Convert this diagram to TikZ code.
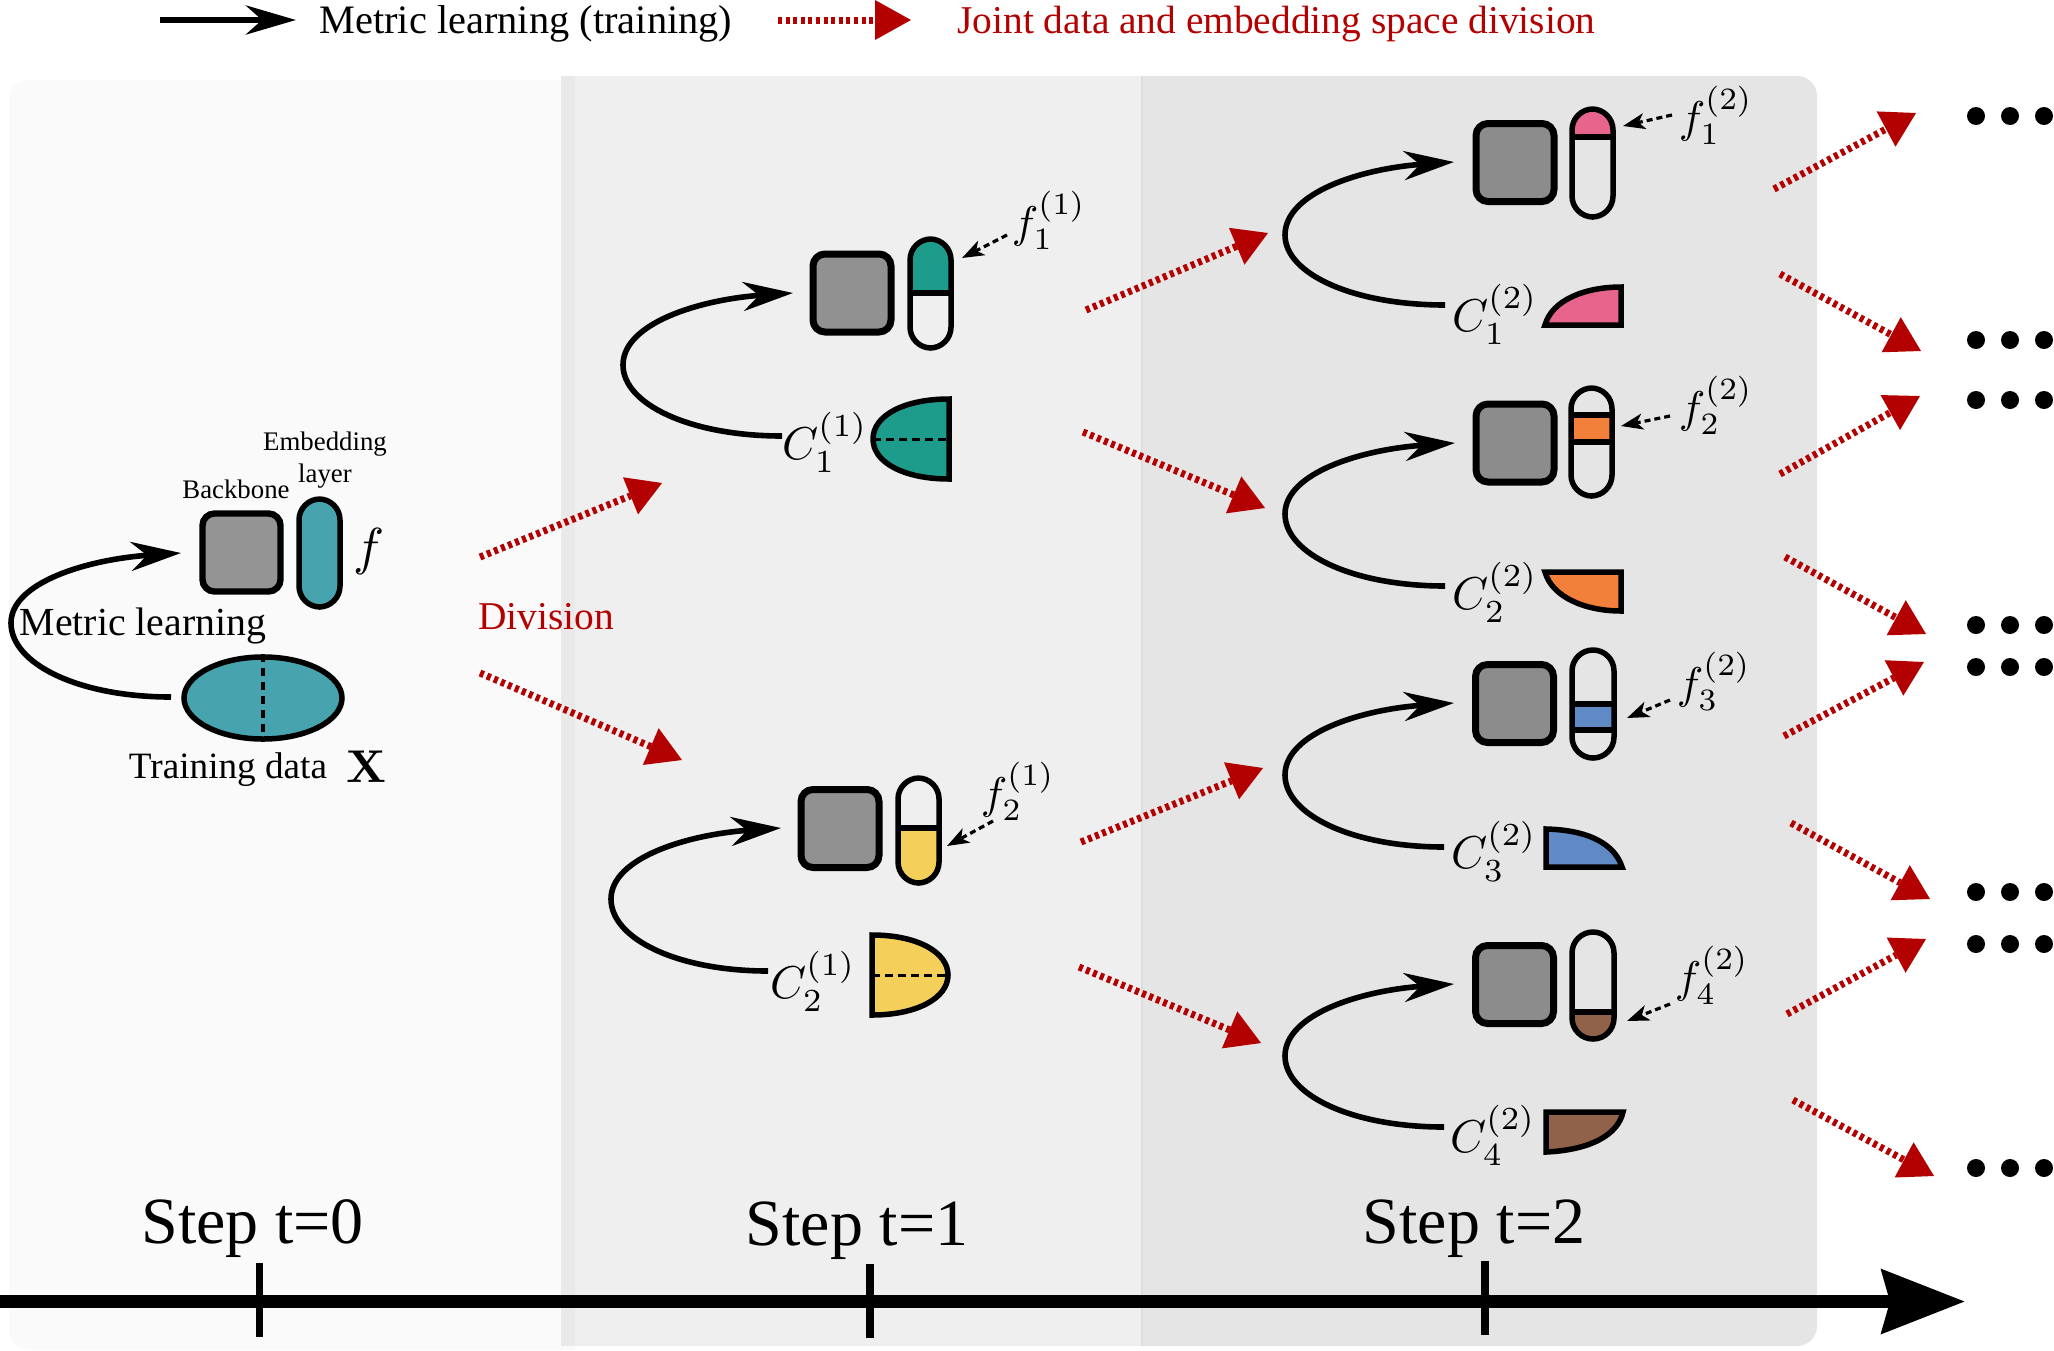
\documentclass[tikz,border=0pt]{standalone}
\usepackage[no-math]{fontspec}
\setmainfont{Liberation Serif}
\usetikzlibrary{arrows.meta,calc,shapes.geometric}
\definecolor{redc}{HTML}{B30000}
\definecolor{zonea}{HTML}{FAFAFA}
\definecolor{zoneb}{HTML}{EFEFEF}
\definecolor{zonec}{HTML}{E5E5E5}
\definecolor{zoneab}{HTML}{E9E9E9}
\definecolor{zoneed}{HTML}{DEDEDE}
\definecolor{tealc}{HTML}{47A3AD}
\definecolor{greenc}{HTML}{1D9B8B}
\definecolor{yellowc}{HTML}{F4CF5A}
\definecolor{pinkc}{HTML}{E7658D}
\definecolor{orangec}{HTML}{F2803A}
\definecolor{bluec}{HTML}{5F8AC6}
\definecolor{brownc}{HTML}{8F6249}
\tikzset{
  bbox/.style={draw=black,line width=3.5pt,rounded corners=6pt,minimum width=39pt,minimum height=39pt,inner sep=0pt,outer sep=0pt},
  arc/.style={draw=black,line width=2.8pt,-{Stealth[length=25pt,width=14.5pt,inset=8pt]}},
  redarrow/.style={draw=redc,line width=3.5pt,dash pattern=on 2pt off 1.8pt,-{Triangle[length=17pt,width=20pt,line width=0pt]}},
  tinyarrow/.style={draw=black,line width=1.6pt,dash pattern=on 3pt off 2pt,-{Stealth[length=11pt,width=8pt,inset=3pt]}},
  outl/.style={draw=black,line width=2.75pt},
  mathc/.style={scale=2.3,inner sep=0pt},
  mathf/.style={scale=2.22,inner sep=0pt},
  smalltxt/.style={inner sep=0pt,font=\fontsize{13.4}{15}\selectfont},
  midtxt/.style={inner sep=0pt,font=\fontsize{19.9}{22}\selectfont},
  steptxt/.style={inner sep=0pt,anchor=base,font=\fontsize{33}{36}\selectfont},
  tick/.style={draw=black,line width=3.8pt},
  dotn/.style={circle,fill=black,minimum size=9pt,inner sep=0pt},
}
% name, x1, y1, x2, y2, band top, band bottom, colour
\newcommand\capsule[8]{%
  \begin{scope}
    \clip[rounded corners=10.5pt] (#2,#3) rectangle (#4,#5);
    \fill[#8] (#2,#6) rectangle (#4,#7);
    \draw[line width=3pt] (#2,#6) -- (#4,#6);
    \draw[line width=3pt] (#2,#7) -- (#4,#7);
  \end{scope}
  \draw[outl,rounded corners=10.5pt] (#2,#3) rectangle (#4,#5);
  \coordinate (#1) at ($(#2,#3)!0.5!(#4,#5)$);
}
% id, start x,y, left x,y, tip x,y
\newcommand\metricarc[7]{%
  \coordinate (#1s) at (#2,#3);
  \coordinate (#1l) at (#4,#5);
  \coordinate (#1t) at (#6,#7);
  \pgfmathsetmacro\axa{#2-0.58*(#2-#4)}
  \pgfmathsetmacro\aya{#5+0.55*(#3-#5)}
  \pgfmathsetmacro\bya{#5-0.58*(#5-#7)}
  \pgfmathsetmacro\bxa{#6-0.55*(#6-#4)}
  \pgfmathsetmacro\byb{#7+0.09*(#5-#7)}
  \draw[arc] (#1s) .. controls (\axa,#3) and (#4,\aya) .. (#1l) .. controls (#4,\bya) and (\bxa,\byb) .. (#1t);
}
\newcommand\tinyptr[5]{%
  \coordinate (#1s) at (#2,#3);
  \coordinate (#1t) at (#4,#5);
  \draw[tinyarrow] (#1s) -- (#1t);
}
\begin{document}
\begin{tikzpicture}[x=0.5pt,y=-0.5pt]
\useasboundingbox (0,0) rectangle (2054,1350);
\fill[white] (0,0) rectangle (2054,1350);
% zones
\fill[zonea] (575,80) [rounded corners=10pt] -- (9,80) -- (9,1350) [sharp corners] -- (575,1350) -- cycle;
\fill[zoneb] (561,76) rectangle (1141,1346);
\fill[zoneab] (561,76) rectangle (575,1346);
\fill[zonec] (1141,76) [rounded corners=10pt] -- (1817,76) -- (1817,1346) [sharp corners] -- (1141,1346) -- cycle;
\fill[zoneed] (1141,76) rectangle (1143,1346);
% legend
\coordinate (lga) at (160,20); \coordinate (lgb) at (296,20);
\draw[arc,line width=3.3pt] (lga) -- (lgb);
\node[midtxt,anchor=west,font=\fontsize{20.2}{22}\selectfont] (lgt) at (319,24) {Metric learning (training)};
\coordinate (lgc) at (778,20); \coordinate (lgd) at (911,20);
\draw[redarrow,-{Triangle[length=18pt,width=20pt,line width=0pt]}] (lgc) -- (lgd);
\node[midtxt,anchor=west,text=redc,font=\fontsize{19.7}{22}\selectfont] (lgu) at (957,24) {Joint data and embedding space division};
% step 0
\node[bbox,line width=3.2pt,fill=black!42] (bb0) at (241.5,552.5) {};
\capsule{p0}{299}{499}{340}{607}{499}{607}{tealc}
\node[inner sep=0pt,scale=2.6] (f0) at (369,551) {$f$};
\node[outl,ellipse,fill=tealc,minimum width=79pt,minimum height=41pt,inner sep=0pt] (d0) at (263,698) {};
\draw[black,line width=2pt,dash pattern=on 4pt off 3pt] (d0.north) -- (d0.south);
\metricarc{a0}{171}{697}{11}{623}{181}{553}
\node[midtxt,inner sep=0pt] (ml0) at (143,626) {Metric learning};
\node[smalltxt] (bl0) at (236,489) {Backbone};
\node[smalltxt] (el0) at (325,444) {Embedding};
\node[smalltxt] (el1) at (325,476) {layer};
\node[inner sep=0pt,font=\fontsize{18.6}{20}\selectfont] (tr0) at (228,770) {Training data};
\node[inner sep=0pt,scale=2.3] (x0) at (366,767) {$\mathbf{X}$};
\node[midtxt,text=redc,font=\fontsize{19.7}{22}\selectfont] (div) at (546,617) {Division};
% step 1 upper
\node[bbox,fill=black!43] (bb1) at (852,293) {};
\capsule{p1}{910}{239}{951}{348}{239}{293}{greenc}
\metricarc{a1}{782}{436}{623}{365}{793}{293}
\node[mathc] (c1) at (825,442) {$C_1^{(1)}$};
\path[fill=greenc,outl] (949,399) .. controls (905,399) and (873,415) .. (873,439) .. controls (873,463) and (905,479) .. (949,479) -- cycle;
\coordinate (h1a) at (873,439); \coordinate (h1b) at (949,439);
\draw[line width=1.5pt,dash pattern=on 4pt off 2.5pt] (h1a) -- (h1b);
\node[mathf] (f1) at (1049,220) {$f_1^{(1)}$};
\tinyptr{t1}{1007}{235}{962}{258}
% step 1 lower
\node[bbox,fill=black!43] (bb2) at (840,828.5) {};
\capsule{p2}{898}{778}{939}{883}{828}{883}{yellowc}
\metricarc{a2}{768}{971}{611}{899}{781}{828}
\node[mathc] (c2) at (813,981) {$C_2^{(1)}$};
\path[fill=yellowc,outl] (872,935) .. controls (917,935) and (948,952) .. (948,975) .. controls (948,998) and (917,1015) .. (872,1015) -- cycle;
\coordinate (h2a) at (872,975); \coordinate (h2b) at (948,975);
\draw[line width=1.5pt,dash pattern=on 4pt off 2.5pt] (h2a) -- (h2b);
\node[mathf] (f2) at (1018,791) {$f_2^{(1)}$};
\tinyptr{t2}{993}{821}{947}{846}
% step 2 modules
\node[bbox,fill=black!45] (bb3) at (1515,162.5) {};
\capsule{p3}{1572}{109}{1613}{217}{109}{137}{pinkc}
\metricarc{a3}{1445}{305}{1285}{235}{1454}{162}
\node[mathc] (c3) at (1495,314) {$C_1^{(2)}$};
\path[fill=pinkc,outl] (1545,325) .. controls (1552,300) and (1585,287) .. (1621,287) -- (1621,325) -- cycle;
\node[mathf] (f3) at (1716,115) {$f_1^{(2)}$};
\tinyptr{t3}{1672}{115}{1623}{126}

\node[bbox,fill=black!45] (bb4) at (1515,443) {};
\capsule{p4}{1571}{388}{1612}{496}{415}{442}{orangec}
\metricarc{a4}{1445}{586}{1285}{514}{1455}{443}
\node[mathc] (c4) at (1495,592) {$C_2^{(2)}$};
\path[fill=orangec,outl] (1545,572) .. controls (1552,597) and (1585,611) .. (1621,611) -- (1621,572) -- cycle;
\node[mathf] (f4) at (1716,405) {$f_2^{(2)}$};
\tinyptr{t4}{1670}{416}{1621}{426}

\node[bbox,fill=black!45] (bb5) at (1514.5,703.5) {};
\capsule{p5}{1572}{650}{1614}{758}{704}{730}{bluec}
\metricarc{a5}{1444}{847}{1285}{775}{1454}{703}
\node[mathc] (c5) at (1494,851) {$C_3^{(2)}$};
\path[fill=bluec,outl] (1546,829) .. controls (1590,830) and (1615,845) .. (1622,867) -- (1546,867) -- cycle;
\node[mathf] (f5) at (1714,681) {$f_3^{(2)}$};
\tinyptr{t5}{1670}{700}{1627}{718}

\node[bbox,fill=black!45] (bb6) at (1514.5,984.5) {};
\capsule{p6}{1572}{932}{1614}{1039}{1012}{1039}{brownc}
\metricarc{a6}{1444}{1127}{1285}{1056}{1454}{984}
\node[mathc] (c6) at (1493,1135) {$C_4^{(2)}$};
\path[fill=brownc,outl] (1546,1112) -- (1623,1112) .. controls (1618,1135) and (1590,1150) .. (1546,1152) -- cycle;
\node[mathf] (f6) at (1712,975) {$f_4^{(2)}$};
\tinyptr{t6}{1670}{1004}{1627}{1021}
% red arrows
\foreach \n/\a/\b/\c/\d in {
  a/480/557/662/483, b/480/673/682/760,
  c/1086/310/1268/233, d/1083/432/1265/508, e/1081/842/1263/768, f/1079/967/1261/1043,
  g/1774/189/1916/113, h/1780/274/1921/351, i/1780/474/1920/396, j/1785/557/1926/634,
  k/1784/736/1924/662, l/1791/823/1930/899, m/1787/1014/1926/939, n/1793/1100/1934/1176}{
  \coordinate (r\n s) at (\a,\b);
  \coordinate (r\n t) at (\c,\d);
  \draw[redarrow] (r\n s) -- (r\n t);
}
% dots
\foreach \m/\y in {a/116,b/340,c/400,d/625,e/667,f/892,g/944,h/1168}{
  \node[dotn] (dot\m1) at (1976,\y) {};
  \node[dotn] (dot\m2) at (2010,\y) {};
  \node[dotn] (dot\m3) at (2044,\y) {};
}
% steps and axis
\node[steptxt] (s0) at (252.5,1243) {Step t=0};
\node[steptxt] (s1) at (857,1245) {Step t=1};
\node[steptxt] (s2) at (1474,1243) {Step t=2};
\coordinate (axa) at (0,1301.5); \coordinate (axb) at (1965,1301.5);
\draw[line width=6.3pt,-{Stealth[length=41.5pt,width=31.5pt,inset=4pt]}] (axa) -- (axb);
\foreach \n/\x/\u/\v in {a/259.6/1263/1337,b/870/1264/1338,c/1485/1261/1335}{
  \coordinate (tk\n a) at (\x,\u);
  \coordinate (tk\n b) at (\x,\v);
  \draw[tick] (tk\n a) -- (tk\n b);
}
\end{tikzpicture}
\end{document}
